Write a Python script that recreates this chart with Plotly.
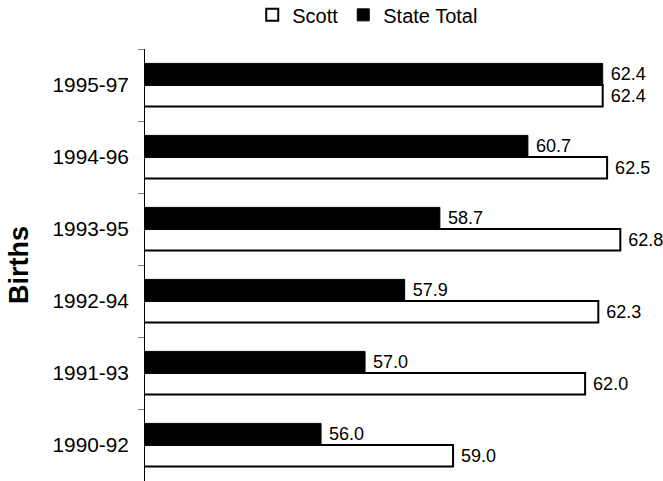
import plotly.graph_objects as go

categories = ["1990-92", "1991-93", "1992-94", "1993-95", "1994-96", "1995-97"]
scott = [59.0, 62.0, 62.3, 62.8, 62.5, 62.4]
state_total = [56.0, 57.0, 57.9, 58.7, 60.7, 62.4]
series_names = ["Scott", "State Total"]

FONT = "Liberation Sans, Arial, sans-serif"

fig = go.Figure()
fig.add_trace(go.Bar(
    y=categories, x=scott, name=series_names[0], orientation="h",
    marker=dict(color="white", line=dict(color="black", width=2)),
    text=scott, texttemplate="\u00a0%{x:.1f}", textposition="outside",
    textfont=dict(size=18, color="black", family=FONT),
    cliponaxis=False, constraintext="none",
))
fig.add_trace(go.Bar(
    y=categories, x=state_total, name=series_names[1], orientation="h",
    marker=dict(color="black", line=dict(color="black", width=1)),
    text=state_total, texttemplate="\u00a0%{x:.1f}", textposition="outside",
    textfont=dict(size=18, color="black", family=FONT),
    cliponaxis=False, constraintext="none",
))

fig.update_layout(
    width=663, height=481,
    margin=dict(l=145, r=0, t=49, b=0, autoexpand=False),
    paper_bgcolor="white", plot_bgcolor="white",
    font=dict(family=FONT, size=20, color="black"),
    barmode="group", bargap=0.4, bargroupgap=0,
    showlegend=True,
    legend=dict(orientation="h", x=0.43, xanchor="center", y=1.079, yanchor="middle",
                font=dict(size=20), bgcolor="rgba(0,0,0,0)", traceorder="normal"),
    xaxis=dict(range=[52, 63.77], visible=False, showgrid=False, zeroline=False),
    yaxis=dict(type="category", categoryorder="array", categoryarray=categories,
               showline=True, linecolor="black", linewidth=1,
               ticks="outside", ticklen=6, tickcolor="#808080", tickwidth=1,
               tickson="boundaries", ticklabelstandoff=11,
               showgrid=False, zeroline=False,
               tickfont=dict(size=20.8, color="black"),
               title=dict(text="<b>Births</b>", font=dict(size=27, color="black"), standoff=16)),
)

fig.write_html("out.html", config={"displayModeBar": False},
               post_script="document.body.style.margin='0';document.body.style.padding='0';")
